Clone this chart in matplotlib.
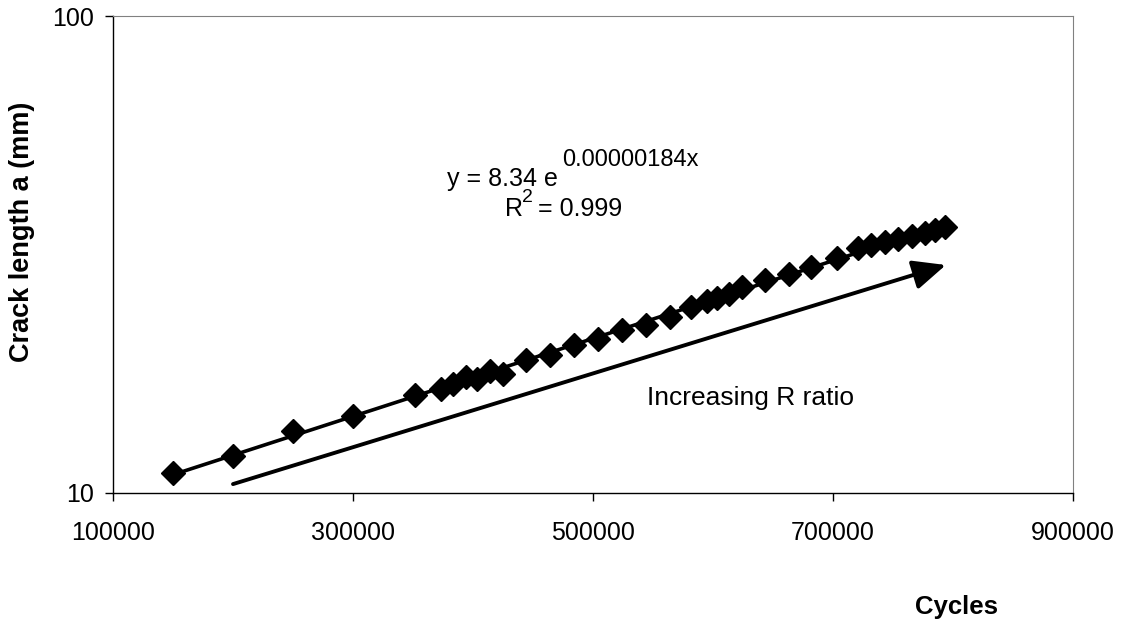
import numpy as np
import matplotlib
matplotlib.use("Agg")
import matplotlib.pyplot as plt

plt.rcParams['font.family'] = ['Liberation Sans', 'DejaVu Sans']

# Data
cycles = [150000, 200000, 250000, 300000, 352000, 373000, 383000, 394000,
          403000, 414000, 425000, 444000, 464000, 484000, 504000, 524000,
          544000, 564000, 582000, 595000, 603000, 613000, 624000, 643000,
          663000, 682000, 703000, 721000, 732000, 743000, 754000, 766000,
          777000, 785000, 793000]
crack_length = [11.0, 11.96, 13.51, 14.53, 16.05, 16.5, 16.93, 17.48,
                17.31, 18.05, 17.77, 19.0, 19.46, 20.43, 21.0, 21.96,
                22.5, 23.35, 24.5, 25.3, 25.6, 26.14, 27.07, 27.96,
                28.74, 29.82, 31.05, 32.58, 33.1, 33.63, 34.07, 34.6,
                35.02, 35.6, 36.17]

x_ticks = [100000, 300000, 500000, 700000, 900000]
y_ticks = [10, 100]

eq_main = "y = 8.34 e"
eq_exp = "0.00000184x"
r2_text = "= 0.999"
arrow_start = (200000, 10.44)
arrow_end = (794000, 30.06)
arrow_label = "Increasing R ratio"

W, H = 1123, 622
fig = plt.figure(figsize=(W / 100, H / 100), dpi=100)
ax = fig.add_axes([113 / W, 1 - 493 / H, 960 / W, 477 / H])

x = np.array(cycles, dtype=float)
y = np.array(crack_length, dtype=float)

# exponential trendline fitted to the data
b, ln_a = np.polyfit(x, np.log(y), 1)
xf = np.linspace(x.min(), x.max(), 200)
yf = np.exp(ln_a) * np.exp(b * xf)

ax.plot(x, y, linestyle='none', marker='D', ms=12, color='black',
        markeredgecolor='black', markeredgewidth=1, zorder=3)
ax.plot(xf, yf, color='black', lw=2.6, zorder=4)

ax.set_yscale('log')
ax.set_xlim(100000, 900000)
ax.set_ylim(10, 100)
ax.set_xticks(x_ticks)
ax.set_xticklabels([str(v) for v in x_ticks])
ax.set_yticks(y_ticks)
ax.set_yticklabels([str(v) for v in y_ticks])
ax.yaxis.set_minor_locator(matplotlib.ticker.NullLocator())
ax.tick_params(axis='both', which='major', direction='out', length=6,
               width=1, labelsize=18, color='black')
ax.tick_params(axis='x', pad=14)
ax.tick_params(axis='y', pad=8)

for side in ['left', 'bottom']:
    ax.spines[side].set_color('black')
    ax.spines[side].set_linewidth(1.0)
for side in ['top', 'right']:
    ax.spines[side].set_color('#808080')
    ax.spines[side].set_linewidth(0.8)

ax.annotate('', xy=arrow_end, xytext=arrow_start,
            arrowprops=dict(arrowstyle='-|>,head_length=1.0,head_width=0.45',
                            mutation_scale=20, lw=2.8, color='black',
                            shrinkA=0, shrinkB=0), zorder=5)

def ftext(px, py, s, **kw):
    fig.text(px / W, 1 - py / H, s, **kw)

ftext(647, 405, arrow_label, fontsize=19, va='baseline', ha='left')
ftext(447, 186, eq_main, fontsize=18, va='baseline', ha='left')
ftext(562, 166, eq_exp, fontsize=17, va='baseline', ha='left')
ftext(505, 216, "R", fontsize=18, va='baseline', ha='left')
ftext(522, 202, "2", fontsize=14, va='baseline', ha='left')
ftext(538, 216, r2_text, fontsize=18, va='baseline', ha='left')

ftext(22, 232, "Crack length a (mm)", fontsize=19.5, fontweight='bold',
      rotation=90, ha='center', va='center')
ftext(957, 607, "Cycles", fontsize=18.5, fontweight='bold',
      ha='center', va='center')

fig.savefig("out.png", dpi=100, facecolor='white')
